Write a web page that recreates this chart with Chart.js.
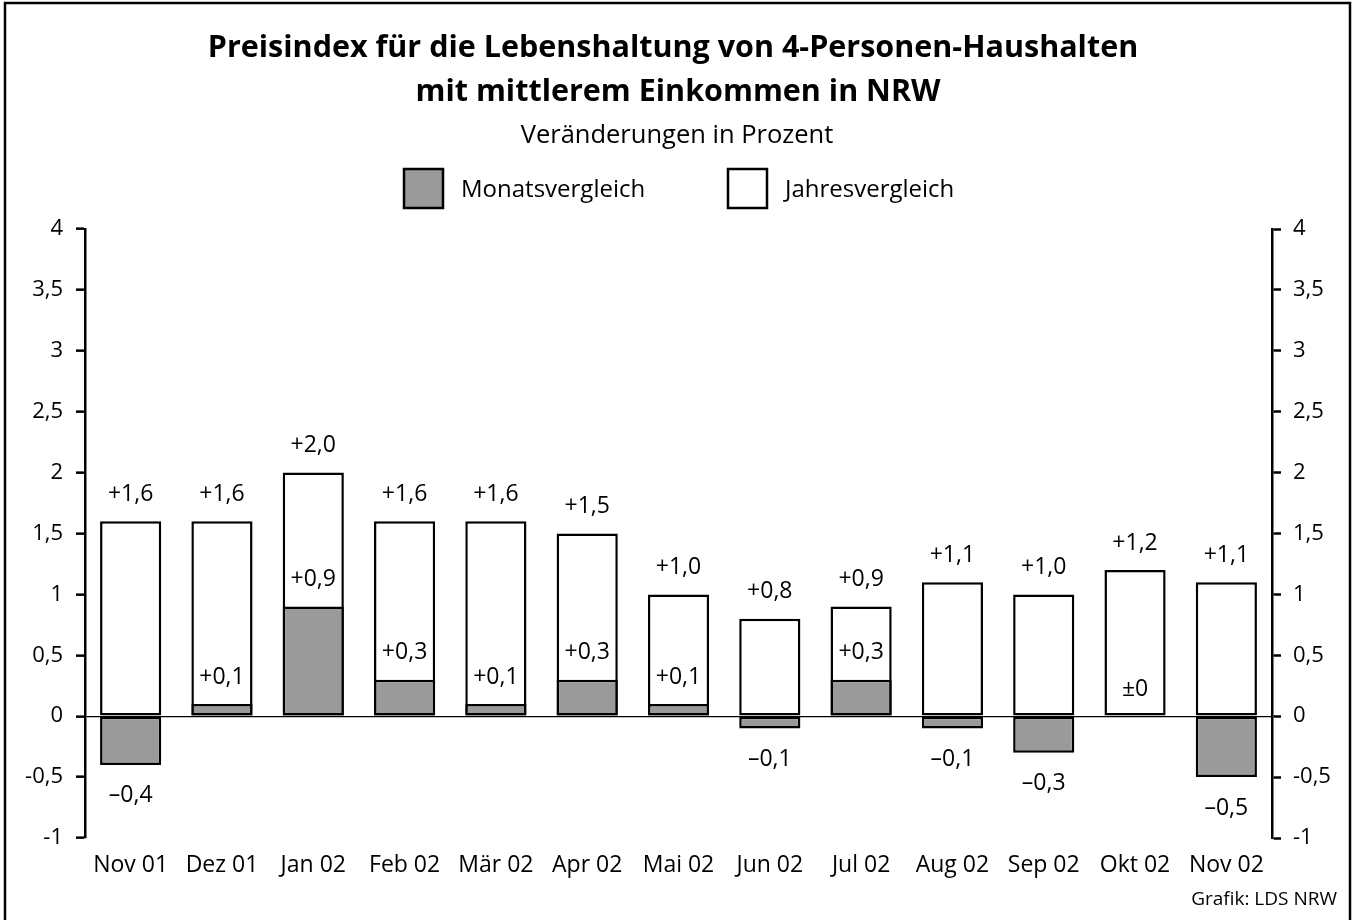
<!DOCTYPE html>
<html>
<head>
<meta charset="utf-8">
<script src="https://cdn.jsdelivr.net/npm/chart.js@4.4.1/dist/chart.umd.min.js"></script>
<style>
  html, body { margin: 0; padding: 0; background: #fff; }
  #wrap { width: 1356px; height: 920px; }
</style>
</head>
<body>
<div id="wrap"><canvas id="chart" width="1356" height="920"></canvas></div>
<script>
// Daten
const monate = ['Nov 01', 'Dez 01', 'Jan 02', 'Feb 02', 'Mär 02', 'Apr 02', 'Mai 02',
                'Jun 02', 'Jul 02', 'Aug 02', 'Sep 02', 'Okt 02', 'Nov 02'];
const monatsvergleich = [-0.4, 0.1, 0.9, 0.3, 0.1, 0.3, 0.1, -0.1, 0.3, -0.1, -0.3, 0, -0.5];
const jahresvergleich = [1.6, 1.6, 2.0, 1.6, 1.6, 1.5, 1.0, 0.8, 0.9, 1.1, 1.0, 1.2, 1.1];
const yTicks = [-1, -0.5, 0, 0.5, 1, 1.5, 2, 2.5, 3, 3.5, 4];

const titel = ['Preisindex für die Lebenshaltung von 4-Personen-Haushalten',
               'mit mittlerem Einkommen in NRW'];
const untertitel = 'Veränderungen in Prozent';
const quelle = 'Grafik: LDS NRW';

const FONT = "'Open Sans', 'Noto Sans', sans-serif";
const GRAU = '#9a9a9a';

// Zahl im deutschen Format mit Vorzeichen
function fmt(v) {
    if (v === 0) return '±0';
    const s = Math.abs(v).toFixed(1).replace('.', ',');
    return (v > 0 ? '+' : '–') + s;
}
function fmtTick(v) {
    return String(v).replace('.', ',');
}

// Titel, Legende, Rahmen und Werte-Beschriftung
const beschriftung = {
    id: 'beschriftung',
    afterDraw(chart) {
        const ctx = chart.ctx;
        ctx.save();
        // Rahmen
        ctx.strokeStyle = '#000';
        ctx.lineWidth = 2.5;
        ctx.strokeRect(5, 3, 1345, 930);

        ctx.fillStyle = '#000';
        ctx.textAlign = 'center';
        ctx.textBaseline = 'middle';
        ctx.font = 'bold 30.5px ' + FONT;
        ctx.fillText(titel[0], 673, 48);
        ctx.fillText(titel[1], 678, 92);
        ctx.font = '25.5px ' + FONT;
        ctx.fillText(untertitel, 677, 136);

        // Legende
        const ds = chart.data.datasets;
        const items = [{ x: 404, ds: ds[0] }, { x: 728, ds: ds[1] }];
        ctx.textAlign = 'left';
        ctx.font = '24px ' + FONT;
        items.forEach(function (it) {
            ctx.fillStyle = it.ds.backgroundColor;
            ctx.fillRect(it.x, 169, 39, 39);
            ctx.lineWidth = 2.5;
            ctx.strokeStyle = '#000';
            ctx.strokeRect(it.x, 169, 39, 39);
            ctx.fillStyle = '#000';
            ctx.fillText(it.ds.label, it.x + 57, 190);
        });

        // Werte an den Säulen
        ctx.font = '23px ' + FONT;
        ctx.textAlign = 'center';
        chart.data.datasets.forEach(function (d, i) {
            const meta = chart.getDatasetMeta(i);
            meta.data.forEach(function (bar, j) {
                const v = d.data[j];
                const y = v < 0 ? bar.y + 31 : bar.y - 27;
                ctx.fillText(fmt(v), bar.x, y);
            });
        });

        // Quelle
        ctx.font = '19px ' + FONT;
        ctx.textAlign = 'right';
        ctx.fillText(quelle, 1337, 900);
        ctx.restore();
    }
};

const ctx = document.getElementById('chart').getContext('2d');
new Chart(ctx, {
    type: 'bar',
    data: {
        labels: monate,
        datasets: [
            {
                label: 'Monatsvergleich',
                data: monatsvergleich,
                backgroundColor: GRAU,
                borderColor: '#000',
                borderWidth: 2.5,
                borderSkipped: false,
                grouped: false,
                barPercentage: 0.67,
                categoryPercentage: 1
            },
            {
                label: 'Jahresvergleich',
                data: jahresvergleich,
                backgroundColor: '#ffffff',
                borderColor: '#000',
                borderWidth: 2.5,
                borderSkipped: false,
                grouped: false,
                barPercentage: 0.67,
                categoryPercentage: 1
            }
        ]
    },
    options: {
        responsive: false,
        animation: false,
        layout: { padding: { top: 229, left: 0, right: 0, bottom: 0 } },
        plugins: {
            legend: { display: false },
            title: { display: false },
            tooltip: { enabled: false }
        },
        scales: {
            x: {
                grid: { display: false },
                border: { display: false },
                ticks: { color: '#000', font: { family: FONT, size: 23 }, padding: 6 },
                afterFit: function (s) { s.height = 920 - 838; }
            },
            y: {
                position: 'left',
                min: -1,
                max: 4,
                afterBuildTicks: function (s) { s.ticks = yTicks.map(v => ({ value: v })); },
                afterFit: function (s) { s.width = 85; },
                border: { display: true, color: '#000', width: 2.5 },
                grid: {
                    drawOnChartArea: true,
                    color: c => (c.tick && c.tick.value === 0) ? '#000' : 'rgba(0,0,0,0)',
                    lineWidth: 1.3,
                    tickColor: '#000',
                    tickWidth: 2.5,
                    tickLength: 9
                },
                ticks: {
                    color: '#000',
                    font: { family: FONT, size: 22 },
                    padding: 13,
                    callback: v => fmtTick(v)
                }
            },
            y2: {
                position: 'right',
                min: -1,
                max: 4,
                afterBuildTicks: function (s) { s.ticks = yTicks.map(v => ({ value: v })); },
                afterFit: function (s) { s.width = 1356 - 1272; },
                border: { display: true, color: '#000', width: 2.5 },
                grid: {
                    drawOnChartArea: false,
                    tickColor: '#000',
                    tickWidth: 2.5,
                    tickLength: 9
                },
                ticks: {
                    color: '#000',
                    font: { family: FONT, size: 22 },
                    padding: 12,
                    callback: v => fmtTick(v)
                }
            }
        }
    },
    plugins: [beschriftung]
});
</script>
</body>
</html>
